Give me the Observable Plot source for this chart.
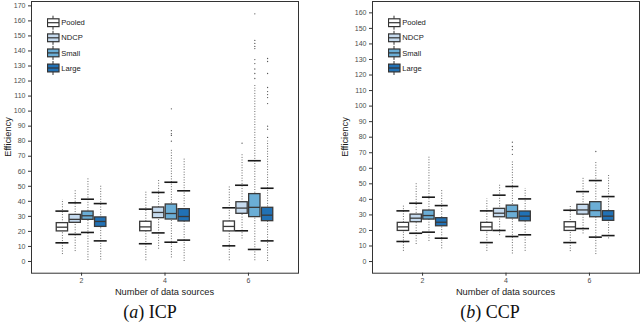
<!DOCTYPE html>
<html>
<head>
<meta charset="utf-8">
<script src="https://cdn.jsdelivr.net/npm/d3@7"></script>
<script src="https://cdn.jsdelivr.net/npm/@observablehq/plot@0.6"></script>
<style>
  html, body { margin: 0; padding: 0; background: #fff; }
  #root { position: relative; width: 640px; height: 328px; overflow: hidden; font-family: "Liberation Sans", Arial, sans-serif; }
  .panel { position: absolute; top: 0; }
  .lbl { position: absolute; white-space: nowrap; transform: translate(-50%, -50%); color: #1a1a1a; font-size: 9.3px; }
  .rot { transform: translate(-50%, -50%) rotate(-90deg); }
  .cap { position: absolute; white-space: nowrap; transform: translate(-50%, -50%); font-family: "Liberation Serif", serif; font-size: 18px; color: #111; }
  svg g[aria-label="y-axis tick label"] text, svg g[aria-label="x-axis tick label"] text { fill: #4d4d4d; }
  .legend { position: absolute; top: 0; }
</style>
</head>
<body>
<div id="root"></div>
<script>
// ---- data ----
const methods = ["Pooled", "NDCP", "Small", "Large"];
const colors = ["#ffffff", "#c6dbef", "#6baed6", "#2171b5"];
const sources = ["2", "4", "6"];

// order: source 2 (Pooled, NDCP, Small, Large), source 4 (...), source 6 (...)
const icpMin      = [4.6, 6.6, 0.7, 1.0,   0.5, 8.2, 2.4, 0.0,   0.5, 15.0, 0.5, 0.0];
const icpWhiskLo  = [12.4, 18.0, 19.3, 13.7, 11.8, 19.0, 12.8, 14.2, 10.4, 20.4, 8.0, 13.7];
const icpQ1       = [20.0, 25.7, 27.7, 23.0, 20.1, 28.8, 27.9, 26.6, 20.0, 31.7, 29.5, 26.8];
const icpMedian   = [22.8, 28.0, 30.4, 26.6, 23.0, 32.6, 31.9, 29.9, 23.3, 35.5, 36.0, 30.8];
const icpQ3       = [25.5, 31.0, 33.2, 29.3, 26.4, 35.9, 37.9, 34.8, 26.6, 39.4, 44.8, 35.7];
const icpWhiskHi  = [33.5, 39.0, 41.4, 38.5, 34.8, 45.9, 52.7, 47.0, 35.7, 50.7, 67.0, 48.7];
const icpDenseMax = [41.0, 47.0, 56.0, 51.0, 47.0, 53.8, 74.0, 68.5, 49.9, 72.0, 118.0, 80.0];
const icpFar = [
  ["4", "Small", [80, 83.8, 85, 87, 101.5]],
  ["6", "NDCP",  [78.7]],
  ["6", "Small", [121.7, 125, 128, 131.6, 134.3, 141.6, 143, 145, 147, 164.7]],
  ["6", "Large", [82.5, 88, 90, 105, 109, 111, 113, 115.7, 125, 133, 135]]
];

const ccpMin      = [6.6, 11.0, 13.0, 8.2,  6.6, 16.7, 4.9, 6.6,  6.4, 17.8, 4.5, 14.6];
const ccpWhiskLo  = [12.9, 18.2, 18.9, 15.0, 12.2, 20.0, 16.1, 17.2, 12.2, 21.2, 15.7, 16.7];
const ccpQ1       = [19.7, 25.3, 27.0, 22.7, 19.7, 28.5, 27.7, 25.9, 19.7, 30.2, 28.5, 26.2];
const ccpMedian   = [22.3, 27.9, 29.6, 25.3, 22.3, 31.1, 32.2, 29.2, 22.3, 33.2, 32.8, 29.2];
const ccpQ3       = [24.9, 30.2, 32.8, 27.9, 24.9, 33.9, 36.0, 32.2, 25.3, 36.5, 38.2, 32.4];
const ccpWhiskHi  = [32.6, 37.5, 41.4, 36.0, 32.6, 42.7, 48.3, 40.3, 33.0, 45.0, 52.1, 41.8];
const ccpDenseMax = [36.5, 50.0, 68.0, 45.7, 40.3, 50.0, 65.0, 47.0, 35.4, 54.3, 64.0, 56.0];
const ccpFar = [
  ["4", "Small", [69, 72, 74, 76.8]],
  ["6", "Small", [70.8]]
];

const icpTicks = d3.range(0, 171, 10);
const ccpTicks = d3.range(0, 161, 10);
const panelTitles = ["(<i>a</i>) ICP", "(<i>b</i>) CCP"];
const xTitle = "Number of data sources";
const yTitle = "Efficiency";

// ---- layout constants (styling) ----
const dodge = 0.153, boxHalf = 0.068, capHalf = 0.078;

function buildRows(mn, wl, q1, md, q3, wh, dm) {
  const rows = [];
  sources.forEach((s, gi) => methods.forEach((m, mi) => {
    const i = gi * 4 + mi;
    rows.push({source: s, method: m, xc: gi + 1 + (mi - 1.5) * dodge,
      min: mn[i], wlo: wl[i], q1: q1[i], med: md[i], q3: q3[i], whi: wh[i], top: dm[i]});
  }));
  return rows;
}
function buildFar(far) {
  const out = [];
  far.forEach(([s, m, vals]) => {
    const xc = sources.indexOf(s) + 1 + (methods.indexOf(m) - 1.5) * dodge;
    vals.forEach(v => out.push({xc, v}));
  });
  return out;
}

function panel(rows, far, yDomain, yTicks, marginLeft, marginRight) {
  return Plot.plot({
    width: 320, height: 300,
    marginLeft, marginRight, marginTop: 1, marginBottom: 27.3,
    style: {fontFamily: "Liberation Sans, Arial, sans-serif", fontSize: "7px", background: "#fff", color: "#333"},
    x: {domain: [0.4, 3.6]},
    y: {domain: yDomain},
    color: {domain: methods, range: colors},
    marks: [
      Plot.ruleX(rows, {x: "xc", y1: "min", y2: "top", stroke: "#4a4a4a", strokeWidth: 0.9, strokeDasharray: "0.9,1.7"}),
      Plot.dot(far, {x: "xc", y: "v", r: 0.65, fill: "#555", stroke: null}),
      Plot.ruleY(rows, {x1: r => r.xc - capHalf, x2: r => r.xc + capHalf, y: "wlo", stroke: "#1a1a1a", strokeWidth: 1.6}),
      Plot.ruleY(rows, {x1: r => r.xc - capHalf, x2: r => r.xc + capHalf, y: "whi", stroke: "#1a1a1a", strokeWidth: 1.6}),
      Plot.rect(rows, {x1: r => r.xc - boxHalf, x2: r => r.xc + boxHalf, y1: "q1", y2: "q3", fill: "method", stroke: "#3a3a3a", strokeWidth: 1.3}),
      Plot.ruleY(rows, {x1: r => r.xc - boxHalf, x2: r => r.xc + boxHalf, y: "med", stroke: "#3a3a3a", strokeWidth: 1.3}),
      Plot.axisY({ticks: yTicks, tickSize: 3, tickPadding: 3, label: null, fontSize: 7}),
      Plot.axisX({ticks: [1, 2, 3], tickFormat: i => sources[i - 1], tickSize: 3, tickPadding: 2, label: null, fontSize: 7}),
      Plot.frame({stroke: "#333", strokeWidth: 1})
    ]
  });
}

function legend(left) {
  const svg = d3.create("svg").attr("width", 80).attr("height", 80)
    .attr("class", "legend").style("left", left + "px");
  methods.forEach((m, i) => {
    const cy = 22.7 + i * 15.1;
    const g = svg.append("g");
    g.append("line").attr("x1", 6).attr("x2", 6).attr("y1", cy - 7).attr("y2", cy + 7)
      .attr("stroke", "#333").attr("stroke-width", 1);
    g.append("rect").attr("x", 0.5).attr("y", cy - 3.9).attr("width", 11.5).attr("height", 7.8)
      .attr("fill", colors[i]).attr("stroke", "#333").attr("stroke-width", 1.2);
    g.append("line").attr("x1", 0.5).attr("x2", 12).attr("y1", cy).attr("y2", cy)
      .attr("stroke", "#333").attr("stroke-width", 1.2);
    g.append("text").attr("x", 14.2).attr("y", cy).attr("dy", "0.35em")
      .attr("font-family", "Liberation Sans, Arial, sans-serif").attr("font-size", 7.6)
      .attr("fill", "#1a1a1a").text(m);
  });
  return svg.node();
}

const root = document.getElementById("root");
function addPanel(left, chart) {
  const div = document.createElement("div");
  div.className = "panel"; div.style.left = left + "px";
  div.appendChild(chart); root.appendChild(div);
}
function addText(cls, x, y, html) {
  const d = document.createElement("div");
  d.className = cls; d.style.left = x + "px"; d.style.top = y + "px"; d.innerHTML = html;
  root.appendChild(d);
}

const icpRows = buildRows(icpMin, icpWhiskLo, icpQ1, icpMedian, icpQ3, icpWhiskHi, icpDenseMax);
const ccpRows = buildRows(ccpMin, ccpWhiskLo, ccpQ1, ccpMedian, ccpQ3, ccpWhiskHi, ccpDenseMax);

addPanel(0, panel(icpRows, buildFar(icpFar), [-7.8, 172.9], icpTicks, 31, 22));
addPanel(320, panel(ccpRows, buildFar(ccpFar), [-7.5, 167.3], ccpTicks, 52, 1));

const lg1 = legend(47); root.appendChild(lg1);
const lg2 = legend(388); root.appendChild(lg2);

addText("lbl rot", 8, 137, yTitle);
addText("lbl rot", 345, 137, yTitle);
addText("lbl", 164.5, 291.5, xTitle);
addText("lbl", 505.5, 291.5, xTitle);
addText("cap", 150, 312, panelTitles[0]);
addText("cap", 490, 312, panelTitles[1]);
</script>
</body>
</html>
